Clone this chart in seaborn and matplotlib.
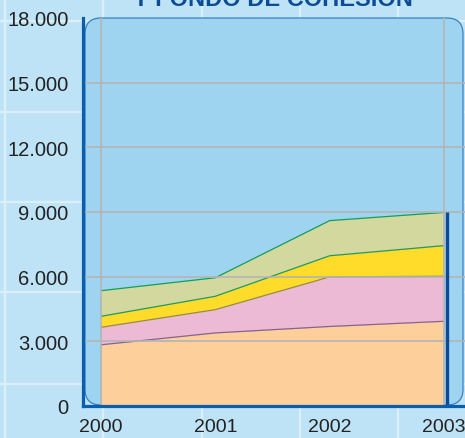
import numpy as np
import pandas as pd
import matplotlib
matplotlib.use("Agg")
import matplotlib.pyplot as plt
from matplotlib.patches import FancyBboxPatch
from matplotlib.lines import Line2D
from matplotlib.ticker import FuncFormatter
import seaborn as sns

# --- data -----------------------------------------------------------------
years = [2000, 2001, 2002, 2003]
serie_a = [2840, 3390, 3690, 3930]   # peach, bottom layer
serie_b = [810, 1080, 2300, 2090]    # pink
serie_c = [510, 620, 980, 1420]      # yellow
serie_d = [1190, 860, 1630, 1540]    # khaki, top layer
y_ticks = [0, 3000, 6000, 9000, 12000, 15000, 18000]
title = "Y FONDO DE COHESIÓN"

# --- style ----------------------------------------------------------------
sns.set_style("white")
plt.rcParams["font.family"] = ["Liberation Sans Narrow", "Liberation Sans", "DejaVu Sans"]

PAGE_BG = "#BEE3F6"
PAGE_LINE = "#DAEFFA"
PANEL = "#9FD4F1"
PANEL_EDGE = "#3A80C4"
SPINE = "#0A5EAC"
GRID = "#B4B4B4"
fills = ["#FDD09B", "#EDBAD6", "#FFDC2A", "#D3D89E"]
edges = ["#8A6488", "#9A8656", "#2A9A4E", "#14A052"]

W, H = 465, 439
fig = plt.figure(figsize=(W / 100, H / 100), dpi=100)
fig.patch.set_facecolor(PAGE_BG)

# faint page grid behind the panel
for px in [5, 103, 202, 300, 398]:
    fig.add_artist(Line2D([px / W, px / W], [0, 1], color=PAGE_LINE, lw=1.6, zorder=-2))
for py in [22, 113, 203, 293, 385]:
    fig.add_artist(Line2D([0, 1], [1 - py / H, 1 - py / H], color=PAGE_LINE, lw=1.6, zorder=-2))

# axes placement in pixels
left_px, right_px, top_px, bottom_px = 83, 465, 19, 407
ax = fig.add_axes([left_px / W, 1 - bottom_px / H, (right_px - left_px) / W, (bottom_px - top_px) / H])
ax.patch.set_visible(False)

px_per_year = (444 - 101) / 3
ax.set_xlim(2000 - (101 - left_px) / px_per_year, 2003 + (right_px - 444) / px_per_year)
ax.set_ylim(0, 18000)

# rounded panel
panel = FancyBboxPatch((0.85, (H - 406) / 100), 3.78, 3.87,
                       boxstyle="round,pad=0,rounding_size=0.16",
                       transform=fig.dpi_scale_trans, facecolor=PANEL,
                       edgecolor=PANEL_EDGE, lw=0.9, zorder=-1, clip_on=False)
ax.add_patch(panel)

# stacked areas
layers = np.array([serie_a, serie_b, serie_c, serie_d], dtype=float)
tops = np.cumsum(layers, axis=0)
base = np.zeros(len(years))
for i in range(len(layers)):
    ax.fill_between(years, base, tops[i], color=fills[i], lw=0, zorder=1)
    base = tops[i]
for i in range(len(layers)):
    sns.lineplot(x=years, y=tops[i], color=edges[i], lw=0.9, ax=ax, zorder=2)

# right edge of the stack
ax.vlines(2003 + 2.5 / px_per_year, 0, tops[-1][-1], color="#0B4A98", lw=2.4, zorder=4)

# grid
for v in y_ticks[1:-1]:
    ax.axhline(v, color=GRID, lw=1.2, zorder=3)
for x in [2000, 2003]:
    ax.axvline(x, color=GRID, lw=1.2, zorder=3)

# spines and ticks
for s in ["top", "right"]:
    ax.spines[s].set_visible(False)
for s in ["left", "bottom"]:
    ax.spines[s].set_color(SPINE)
    ax.spines[s].set_linewidth(2.3)
    ax.spines[s].set_zorder(5)
ax.set_xticks(years)
ax.set_yticks(y_ticks)
ax.yaxis.set_major_formatter(FuncFormatter(lambda v, p: f"{int(v):,}".replace(",", ".")))
ax.tick_params(axis="y", length=7, width=2.3, color=SPINE, pad=3.5, labelsize=14.5, labelcolor="#222222")
ax.tick_params(axis="x", length=5, width=2.3, color=SPINE, pad=3.5, labelsize=14, labelcolor="#222222")
ax.set_xlabel("")
ax.set_ylabel("")

fig.text(273 / W, 1 - 6.5 / H, title, ha="center", va="baseline",
         fontsize=17, fontweight="bold", color="#0C4C96",
         family=["Liberation Sans", "DejaVu Sans"])

fig.savefig("out.png", dpi=100, facecolor=fig.get_facecolor())
